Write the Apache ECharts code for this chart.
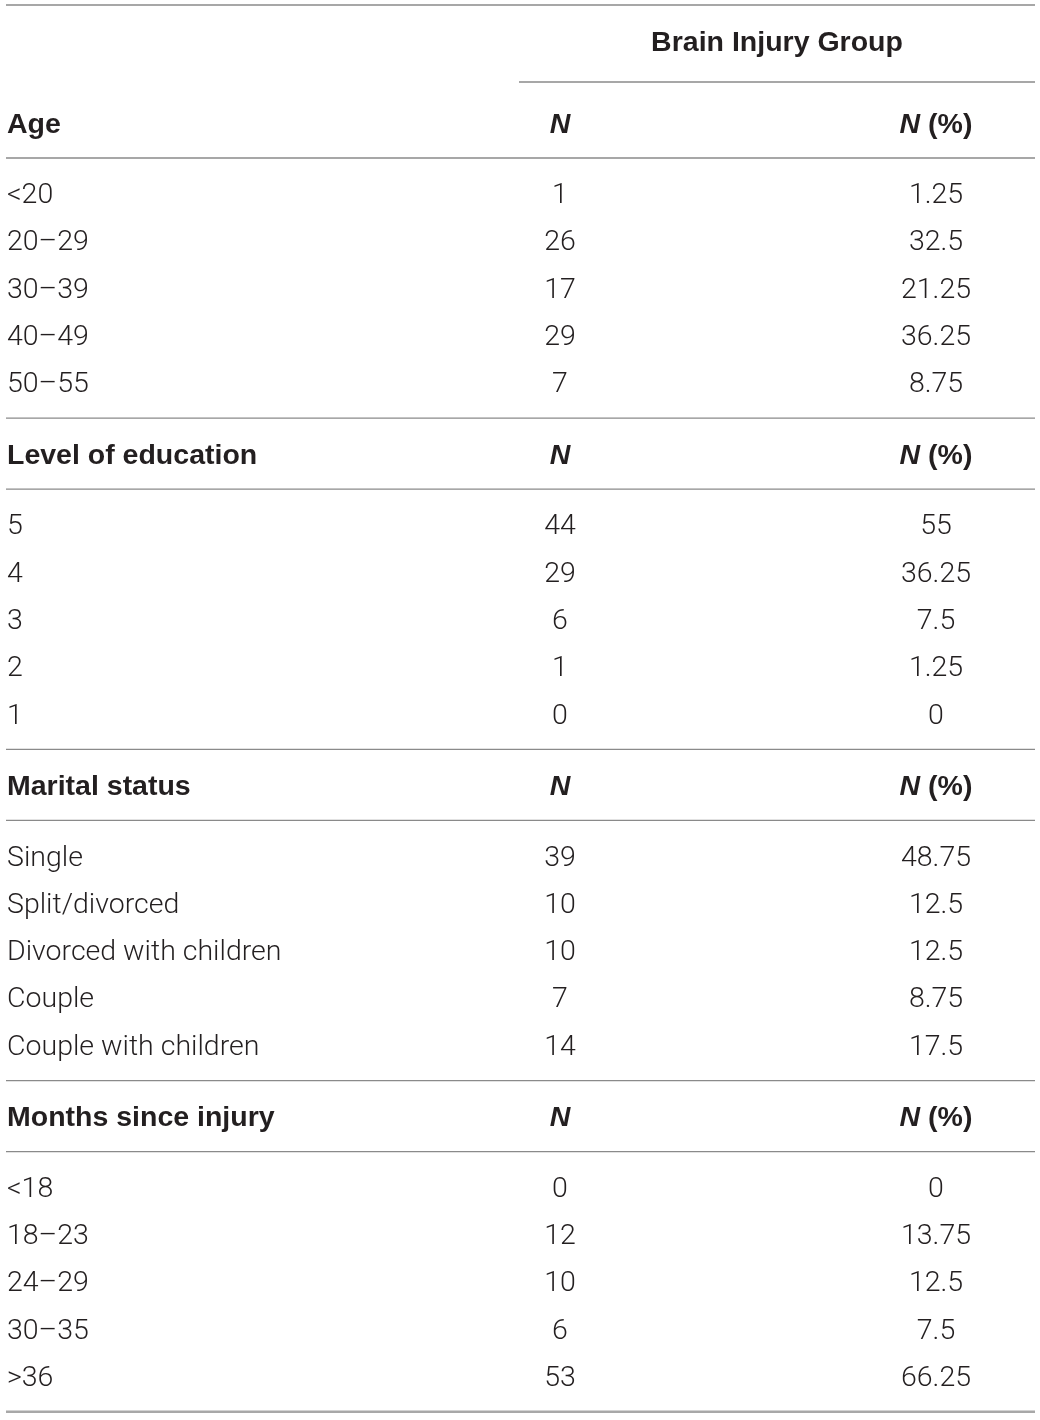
<!DOCTYPE html>
<html>
<head>
<meta charset="utf-8">
<title>Brain Injury Group</title>
<script src="https://cdn.jsdelivr.net/npm/echarts/dist/echarts.min.js"></script>
<style>
  html, body { margin: 0; padding: 0; background: #fff; }
  #main { width: 1040px; height: 1420px; }
</style>
</head>
<body>
<div id="main"></div>
<script>
// table content
var groupTitle = 'Brain Injury Group';
var sections = ['Age', 'Level of education', 'Marital status', 'Months since injury'];
var ageLabels = ['<20', '20–29', '30–39', '40–49', '50–55'];
var ageN = [1, 26, 17, 29, 7];
var agePct = ['1.25', '32.5', '21.25', '36.25', '8.75'];
var eduLabels = ['5', '4', '3', '2', '1'];
var eduN = [44, 29, 6, 1, 0];
var eduPct = ['55', '36.25', '7.5', '1.25', '0'];
var maritalLabels = ['Single', 'Split/divorced', 'Divorced with children', 'Couple', 'Couple with children'];
var maritalN = [39, 10, 10, 7, 14];
var maritalPct = ['48.75', '12.5', '12.5', '8.75', '17.5'];
var monthsLabels = ['<18', '18–23', '24–29', '30–35', '>36'];
var monthsN = [0, 12, 10, 6, 53];
var monthsPct = ['0', '13.75', '12.5', '7.5', '66.25'];

var blocks = [
  { labels: ageLabels, n: ageN, pct: agePct },
  { labels: eduLabels, n: eduN, pct: eduPct },
  { labels: maritalLabels, n: maritalN, pct: maritalPct },
  { labels: monthsLabels, n: monthsN, pct: monthsPct }
];

// layout (axis units = px)
var colLabel = 7, colN = 560, colPct = 936, colGroup = 777;
var ruleLeft = 6, ruleSub = 519, ruleRight = 1035;
var rowStep = 47.3;
var textShift = 2;
var fontSize = 28.5;

var cells = [];   // {x, y, text, kind, align}
var rules = [];   // [x1, x2, y, width, color]

var y = 41;
rules.push([ruleLeft, ruleRight, 5, 1.3, '#8a8a8a']);
cells.push({ x: colGroup, y: y, text: groupTitle, kind: 'bold', align: 'center' });
rules.push([ruleSub, ruleRight, 82, 1.3, '#8a8a8a']);
y = 123;

blocks.forEach(function (b, bi) {
  cells.push({ x: colLabel, y: y, text: sections[bi], kind: 'bold', align: 'left' });
  cells.push({ x: colN, y: y, text: '{i|N}', kind: 'bold', align: 'center' });
  cells.push({ x: colPct, y: y, text: '{i|N} (%)', kind: 'bold', align: 'center' });
  rules.push([ruleLeft, ruleRight, y + 35, 1.3, '#8a8a8a']);
  y += 71;
  b.labels.forEach(function (lab, i) {
    cells.push({ x: colLabel, y: y, text: lab, kind: 'body', align: 'left' });
    cells.push({ x: colN, y: y, text: String(b.n[i]), kind: 'body', align: 'center' });
    cells.push({ x: colPct, y: y, text: b.pct[i], kind: 'body', align: 'center' });
    if (i < b.labels.length - 1) y += rowStep;
  });
  var last = bi === blocks.length - 1;
  rules.push([ruleLeft, ruleRight, y + 35, last ? 2.6 : 1.3, last ? '#a8a8a8' : '#8a8a8a']);
  y += 71;
});

var myChart = echarts.init(document.getElementById('main'));

var option = {
  backgroundColor: '#ffffff',
  animation: false,
  grid: { left: 0, right: 0, top: 0, bottom: 0 },
  xAxis: { type: 'value', min: 0, max: 1040, show: false },
  yAxis: { type: 'value', min: 0, max: 1420, inverse: true, show: false },
  series: [
    {
      type: 'custom',
      clip: false,
      data: rules.map(function (r) { return [r[0], r[1], r[2], r[3]]; }),
      renderItem: function (params, api) {
        var r = rules[params.dataIndex];
        var p1 = api.coord([api.value(0), api.value(2)]);
        var p2 = api.coord([api.value(1), api.value(2)]);
        return {
          type: 'line',
          shape: { x1: p1[0], y1: p1[1], x2: p2[0], y2: p2[1] },
          style: { stroke: r[4], lineWidth: api.value(3) }
        };
      }
    },
    {
      type: 'custom',
      clip: false,
      data: cells.map(function (c) { return [c.x, c.y + textShift]; }),
      renderItem: function (params, api) {
        var c = cells[params.dataIndex];
        var p = api.coord([api.value(0), api.value(1)]);
        var bold = c.kind === 'bold';
        return {
          type: 'text',
          x: p[0],
          y: p[1],
          style: {
            text: c.text,
            fill: '#231f20',
            fontFamily: bold ? '"Liberation Sans", Arial, sans-serif' : 'Roboto, "Liberation Sans", sans-serif',
            fontWeight: bold ? 'bold' : 300,
            fontSize: fontSize,
            align: c.align,
            verticalAlign: 'middle',
            rich: {
              i: {
                fontStyle: 'italic',
                fontWeight: 'bold',
                fontSize: fontSize,
                fontFamily: '"Liberation Sans", Arial, sans-serif',
                fill: '#231f20'
              }
            }
          }
        };
      }
    }
  ]
};

myChart.setOption(option);
</script>
</body>
</html>
